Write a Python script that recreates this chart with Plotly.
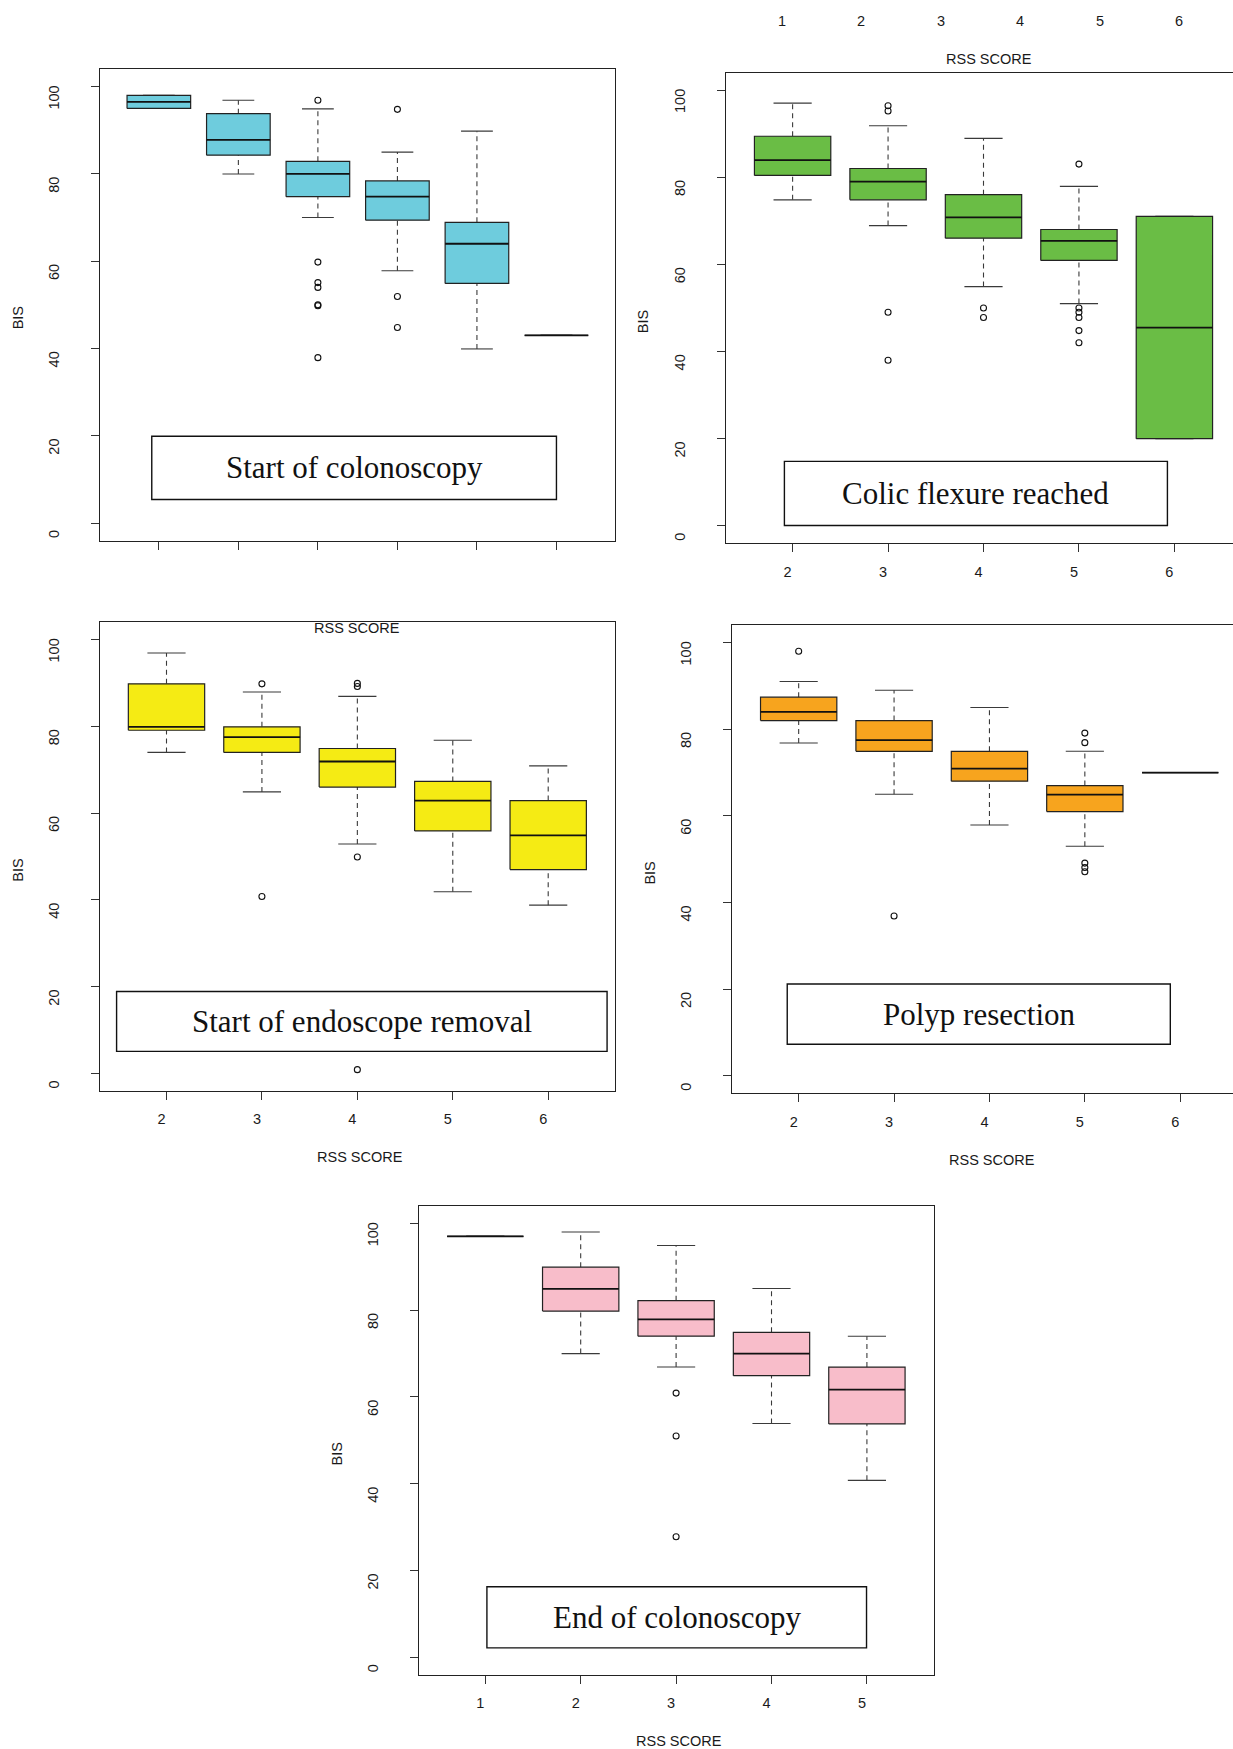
import plotly.graph_objects as go

W, H = 1233, 1749

# ---------------- data: BIS by RSS score (box statistics) ----------------
p1_labels = ["1", "2", "3", "4", "5", "6"]
p1_low = [95, 80, 70, 57.8, 39.9, 43]
p1_q1 = [95, 84.3, 74.8, 69.4, 54.9, 43]
p1_med = [96.5, 87.8, 80, 74.8, 64, 43]
p1_q3 = [98, 93.8, 82.9, 78.4, 68.9, 43]
p1_up = [98, 96.9, 94.9, 85, 89.8, 43]
p1_out = [[], [], [96.9, 59.8, 55.1, 54.0, 50.0, 49.8, 37.9], [94.8, 51.9, 44.8], [], []]

p2_labels = ["2", "3", "4", "5", "6"]
p2_low = [74.8, 68.9, 54.9, 51.0, 20]
p2_q1 = [80.4, 74.8, 66.0, 60.9, 20]
p2_med = [83.9, 79.0, 70.8, 65.4, 45.5]
p2_q3 = [89.4, 82.0, 76.0, 68.0, 71]
p2_up = [97.0, 91.8, 88.9, 77.9, 71]
p2_out = [[], [96.4, 95.2, 49.0, 38.0], [50.0, 47.8], [83.0, 50.0, 49.0, 47.8, 44.8, 42.0], []]

p3_labels = ["2", "3", "4", "5", "6"]
p3_low = [74.0, 64.9, 52.9, 41.9, 38.8]
p3_q1 = [79.1, 74.0, 66.0, 55.9, 47.0]
p3_med = [79.9, 77.5, 71.9, 62.9, 54.9]
p3_q3 = [89.8, 79.9, 74.9, 67.3, 62.9]
p3_up = [96.9, 87.9, 86.9, 76.8, 70.9]
p3_out = [[], [89.8, 40.8], [89.9, 89.2, 49.9, 0.9], [], []]

p4_labels = ["2", "3", "4", "5", "6"]
p4_low = [76.8, 65.0, 57.9, 53.0, 70.0]
p4_q1 = [82.0, 74.9, 68.0, 61.0, 70.0]
p4_med = [84.0, 77.5, 70.9, 64.9, 70.0]
p4_q3 = [87.4, 82.0, 74.9, 67.0, 70.0]
p4_up = [91.0, 89.0, 85.0, 74.9, 70.0]
p4_out = [[98.0], [36.9], [], [79.1, 76.9, 49.1, 48.1, 47.1], []]

p5_labels = ["1", "2", "3", "4", "5"]
p5_low = [97.0, 70.0, 66.9, 53.9, 40.8]
p5_q1 = [97.0, 79.8, 74.0, 64.9, 53.8]
p5_med = [97.0, 84.9, 77.9, 70.0, 61.7]
p5_q3 = [97.0, 89.9, 82.2, 74.9, 66.9]
p5_up = [97.0, 98.0, 94.9, 85.0, 74.0]
p5_out = [[], [], [60.9, 51.0, 27.8], [], []]

titles = ["Start of colonoscopy", "Colic flexure reached", "Start of endoscope removal",
          "Polyp resection", "End of colonoscopy"]
fills = ["#6ECCDD", "#6ABD45", "#F5EB14", "#F7A41E", "#F8BDCA"]
y_ticks = [0, 20, 40, 60, 80, 100]
x_title = "RSS SCORE"
y_title = "BIS"

panels = [
    (p1_labels, p1_low, p1_q1, p1_med, p1_q3, p1_up, p1_out),
    (p2_labels, p2_low, p2_q1, p2_med, p2_q3, p2_up, p2_out),
    (p3_labels, p3_low, p3_q1, p3_med, p3_q3, p3_up, p3_out),
    (p4_labels, p4_low, p4_q1, p4_med, p4_q3, p4_up, p4_out),
    (p5_labels, p5_low, p5_q1, p5_med, p5_q3, p5_up, p5_out),
]

# ---------------- layout geometry (pixel frames of each panel in the collage) ----------------
frames = [
    dict(l=100.0, r=615.3, t=69.2, b=540.5, lo=0.26, hi=6.74, xlab=False, rframe=True),
    dict(l=725.8, r=1241.2, t=72.6, b=543.3, lo=0.30, hi=5.70, xlab=True, rframe=False),
    dict(l=99.7, r=615.0, t=622.2, b=1090.9, lo=0.30, hi=5.70, xlab=True, rframe=True),
    dict(l=731.9, r=1247.0, t=625.2, b=1093.2, lo=0.30, hi=5.70, xlab=True, rframe=False),
    dict(l=418.5, r=933.7, t=1206.0, b=1674.8, lo=0.30, hi=5.70, xlab=True, rframe=True),
]
legend_boxes = [
    (0.911, 6.000, 5.4, 19.9),
    (0.914, 4.927, 0.1, 14.8),
    (0.477, 5.617, 5.1, 18.9),
    (0.880, 4.896, 7.3, 21.2),
    (1.017, 4.996, 2.2, 16.3),
]
x_title_panels = [2, 3, 4]  # indices (0-based) of panels whose own x title is visible

SANS = "Liberation Sans, Arial, Helvetica, sans-serif"
SERIF = "Liberation Serif, Times New Roman, serif"
TXT = "#1a1a1a"

fig = go.Figure()
shapes, annotations = [], []
layout = dict(width=W, height=H, margin=dict(l=0, r=0, t=0, b=0, pad=0, autoexpand=False),
              paper_bgcolor="white", plot_bgcolor="white", showlegend=False)

HW, SW = 0.4, 0.2  # half box width, half staple width (R defaults)

for i, ((labels, low, q1, med, q3, up, out), fr, fill, title, lb) in enumerate(
        zip(panels, frames, fills, titles, legend_boxes)):
    k = i + 1
    xa = "x" if k == 1 else f"x{k}"
    ya = "y" if k == 1 else f"y{k}"
    pos = list(range(1, len(labels) + 1))

    bx, by, mx, my, wx, wy, sx, sy, ox, oy = ([] for _ in range(10))
    for p, a, b, m, c, d, o in zip(pos, low, q1, med, q3, up, out):
        bx += [p - HW, p + HW, p + HW, p - HW, p - HW, None]
        by += [b, b, c, c, b, None]
        mx += [p - HW, p + HW, None]
        my += [m, m, None]
        if d > c:
            wx += [p, p, None]
            wy += [c, d, None]
        if a < b:
            wx += [p, p, None]
            wy += [a, b, None]
        sx += [p - SW, p + SW, None, p - SW, p + SW, None]
        sy += [d, d, None, a, a, None]
        ox += [p] * len(o)
        oy += o

    common = dict(xaxis=xa, yaxis=ya, hoverinfo="skip", showlegend=False)
    fig.add_trace(go.Scatter(x=wx, y=wy, mode="lines",
                             line=dict(color="#3a3a3a", width=1.1, dash="5px,4px"), **common))
    fig.add_trace(go.Scatter(x=sx, y=sy, mode="lines",
                             line=dict(color="#3a3a3a", width=1.1), **common))
    fig.add_trace(go.Scatter(x=bx, y=by, mode="lines", fill="toself", fillcolor=fill,
                             line=dict(color="#222222", width=1.2), **common))
    fig.add_trace(go.Scatter(x=mx, y=my, mode="lines",
                             line=dict(color="#111111", width=1.8), **common))
    fig.add_trace(go.Scatter(x=ox, y=oy, mode="markers",
                             marker=dict(symbol="circle-open", size=6, color="#111111",
                                         line=dict(width=1.1)), **common))

    # axes
    r_vis = min(fr["r"], W)
    hi_vis = fr["lo"] + (r_vis - fr["l"]) / (fr["r"] - fr["l"]) * (fr["hi"] - fr["lo"])
    axis_font = dict(family=SANS, size=14.5, color=TXT)
    layout["xaxis" if k == 1 else f"xaxis{k}"] = dict(
        domain=[fr["l"] / W, r_vis / W], range=[fr["lo"], hi_vis], anchor=ya,
        tickmode="array", tickvals=pos, ticktext=labels, showticklabels=fr["xlab"],
        ticks="outside", ticklen=8, tickwidth=1, tickcolor="#333333",
        showline=True, linecolor="#222222", linewidth=1, mirror=True,
        showgrid=False, zeroline=False, tickfont=axis_font, automargin=False,
        ticklabelstandoff=7, ticklabelshift=-5, fixedrange=True)
    layout["yaxis" if k == 1 else f"yaxis{k}"] = dict(
        domain=[1 - fr["b"] / H, 1 - fr["t"] / H], range=[-4, 104], anchor=xa,
        tickmode="array", tickvals=y_ticks, ticks="outside", ticklen=8, tickwidth=1,
        tickcolor="#333333", showline=True, linecolor="#222222", linewidth=1,
        mirror=fr["rframe"], showgrid=False, zeroline=False, tickangle=-90,
        tickfont=axis_font, automargin=False,
        ticklabelstandoff=26, ticklabelshift=13, fixedrange=True)

    # label box inside each panel
    shapes.append(dict(type="rect", xref=xa, yref=ya, x0=lb[0], x1=lb[1], y0=lb[2], y1=lb[3],
                       line=dict(color="#111111", width=1.4), fillcolor="rgba(0,0,0,0)"))
    annotations.append(dict(xref=xa, yref=ya, x=(lb[0] + lb[1]) / 2, y=(lb[2] + lb[3]) / 2,
                            text=title, showarrow=False,
                            font=dict(family=SERIF, size=31, color="#111111")))

    # BIS axis title
    annotations.append(dict(xref="paper", yref="paper", x=(fr["l"] - 82) / W,
                            y=1 - ((fr["t"] + fr["b"]) / 2 + 13.5) / H, text=y_title,
                            textangle=-90, showarrow=False, xanchor="center", yanchor="middle",
                            font=dict(family=SANS, size=14.5, color=TXT)))
    if i in x_title_panels:
        annotations.append(dict(xref="paper", yref="paper",
                                x=((fr["l"] + fr["r"]) / 2 + 2.5) / W,
                                y=1 - (fr["b"] + 66.5) / H, text=x_title, showarrow=False,
                                xanchor="center", yanchor="middle",
                                font=dict(family=SANS, size=14.5, color=TXT)))

# stray axis labels of the first panel that appear elsewhere in the collage
for p, lab in zip(range(1, len(p1_labels) + 1), p1_labels):
    annotations.append(dict(xref="x", yref="paper", x=p, xshift=623, y=1 - 21.2 / H,
                            text=lab, showarrow=False, xanchor="center", yanchor="middle",
                            font=dict(family=SANS, size=14.5, color=TXT)))
annotations.append(dict(xref="paper", yref="paper", x=988.6 / W, y=1 - 59.1 / H, text=x_title,
                        showarrow=False, xanchor="center", yanchor="middle",
                        font=dict(family=SANS, size=14.5, color=TXT)))
annotations.append(dict(xref="paper", yref="paper", x=357.0 / W, y=1 - 628.3 / H, text=x_title,
                        showarrow=False, xanchor="center", yanchor="middle",
                        font=dict(family=SANS, size=14.5, color=TXT)))

layout["shapes"] = shapes
layout["annotations"] = annotations
fig.update_layout(**layout)

fig.write_html("out.html", config={"displayModeBar": False},
               post_script="document.body.style.margin='0';document.body.style.overflow='hidden';")
